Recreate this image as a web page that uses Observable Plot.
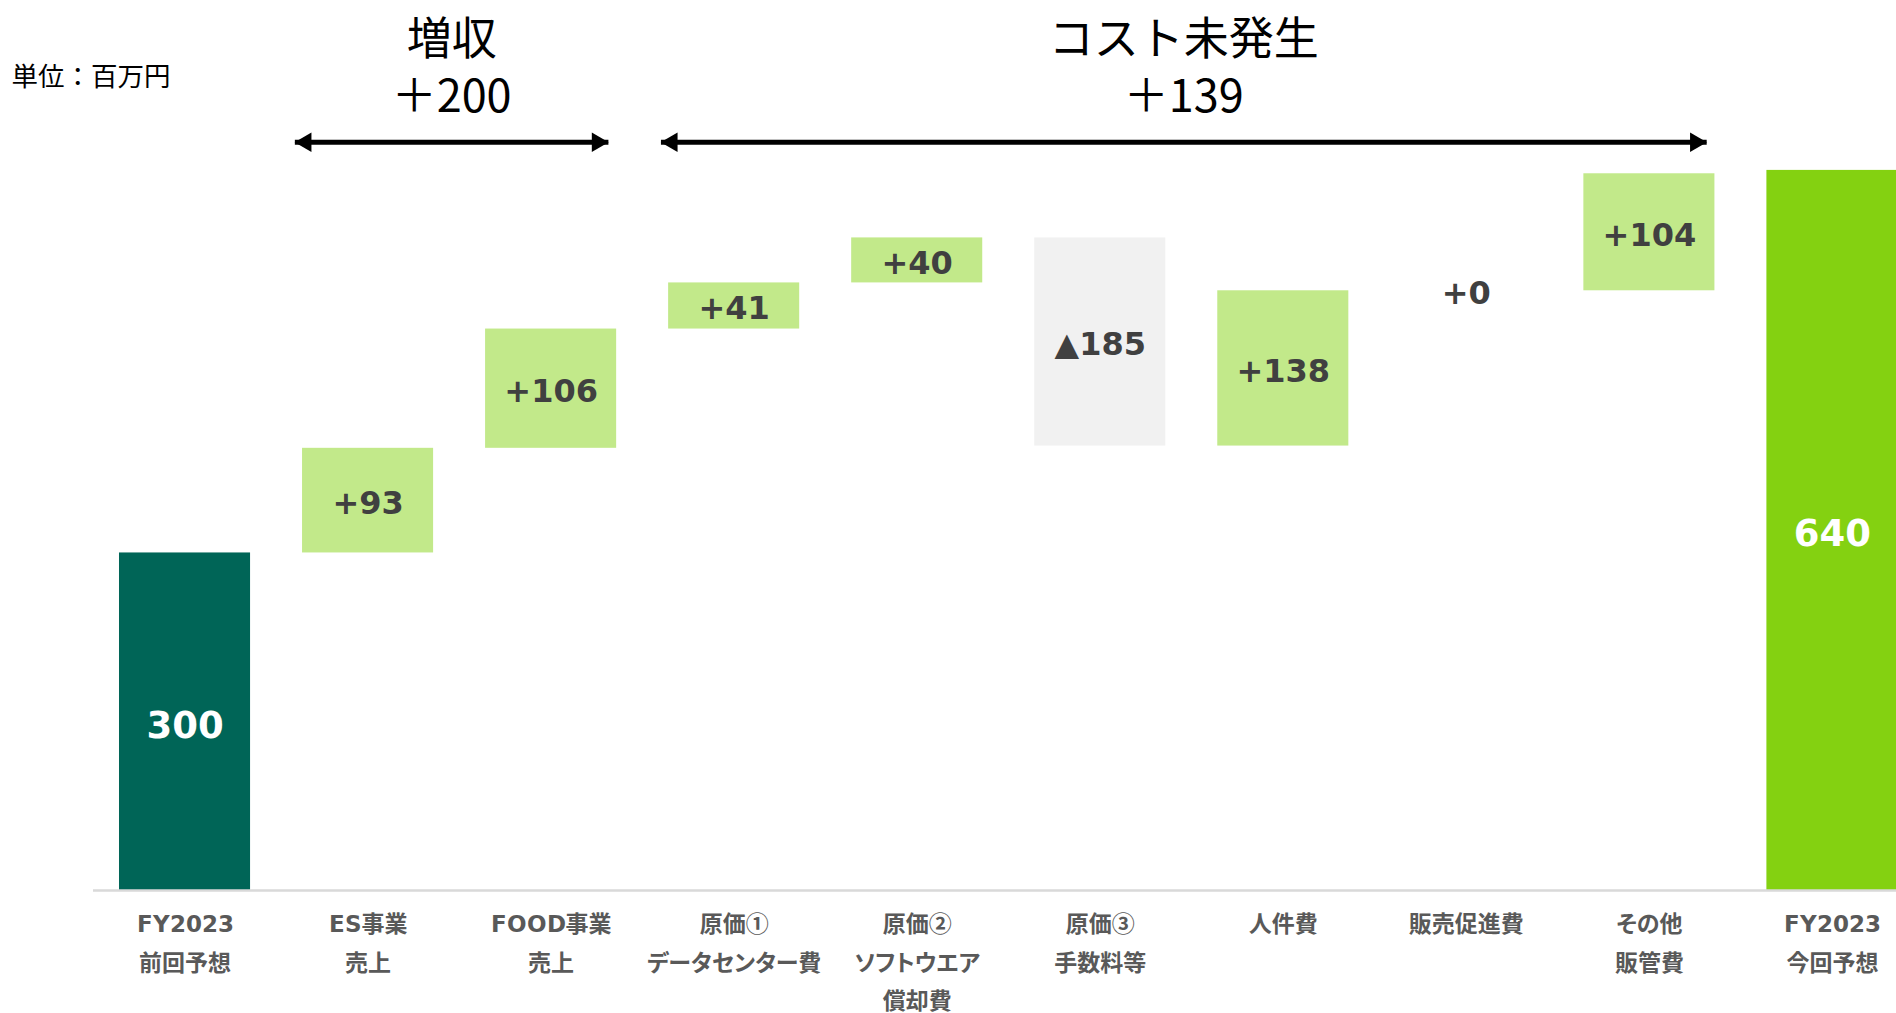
<!DOCTYPE html>
<html><head><meta charset="utf-8">
<script src="https://cdn.jsdelivr.net/npm/d3@7"></script>
<script src="https://cdn.jsdelivr.net/npm/@observablehq/plot@0.6"></script>
<style>
@font-face{font-family:"LatinMix";src:local("DejaVu Sans Bold"),local("DejaVuSans-Bold");font-weight:700;unicode-range:U+0020-007E;}
html,body{margin:0;padding:0;background:#fff;overflow:hidden}
g[aria-label="x-axis tick label"] text{font-feature-settings:"palt"}
</style>
</head><body><div id="chart"></div>
<script>
// ---- data ----
const categories = [
  "FY2023\n前回予想",
  "ES事業\n売上",
  "FOOD事業\n売上",
  "原価①\nデータセンター費",
  "原価②\nソフトウエア\n償却費",
  "原価③\n手数料等",
  "人件費",
  "販売促進費",
  "その他\n販管費",
  "FY2023\n今回予想"
];
const startValue = 300;
const deltas = [93, 106, 41, 40, -185, 138, 0, 104];
const endValue = 640;
const groupTitles = ["増収", "コスト未発生"];
const groupTotals = ["＋200", "＋139"];
const groupFirst = [1, 3];
const groupLast = [2, 8];
const unitLabel = "単位：百万円";

// ---- styling ----
const colors = {start: "#006557", up: "#c2e98a", down: "#f1f1f1", zero: "none", end: "#84d111"};
const half = 0.358;

// ---- build waterfall rows ----
const rows = [];
rows.push({i: 0, y1: 0, y2: startValue, kind: "start", label: String(startValue)});
let cum = startValue;
deltas.forEach((d, k) => {
  const y1 = cum;
  cum += d;
  rows.push({i: k + 1, y1, y2: cum, kind: d > 0 ? "up" : d < 0 ? "down" : "zero",
             label: d < 0 ? "▲" + (-d) : "+" + d});
});
rows.push({i: deltas.length + 1, y1: 0, y2: endValue, kind: "end", label: String(endValue)});

const arrowY = endValue + 25;
const groups = groupTitles.map((t, g) => ({
  title: t, total: groupTotals[g],
  x1: groupFirst[g] - 0.4, x2: groupLast[g] + 0.313
}));

const mid = d => (d.y1 + d.y2) / 2;
const valueFont = "'DejaVu Sans', 'Noto Sans CJK JP', sans-serif";

const plot = Plot.plot({
  width: 1896, height: 1013,
  marginLeft: 93, marginRight: 0, marginTop: 0, marginBottom: 123,
  x: {domain: [-0.5, 9.35]},
  y: {domain: [0, 791], axis: null},
  color: {type: "identity"},
  style: {fontFamily: "'Noto Sans CJK JP', sans-serif", background: "#fff", overflow: "hidden"},
  marks: [
    Plot.rectY(rows.filter(r => r.kind !== "zero"), {
      x1: d => d.i - half, x2: d => d.i + half, y1: "y1", y2: "y2",
      fill: d => colors[d.kind]
    }),
    Plot.ruleY([0], {stroke: "#d9d9d9", strokeWidth: 2.5}),
    Plot.axisX({
      ticks: categories.map((_, i) => i), tickFormat: i => categories[i],
      tickSize: 0, tickPadding: 14, fontSize: 23, fontWeight: "bold",
      fontFamily: "'LatinMix', 'Noto Sans CJK JP', sans-serif",
      color: "#595959", lineHeight: 1.68, label: null
    }),
    Plot.text(rows.filter(r => r.kind === "start" || r.kind === "end"), {
      x: "i", y: mid, text: "label", fill: "#ffffff", dy: 4,
      fontSize: 37, fontWeight: "bold", fontFamily: valueFont
    }),
    Plot.text(rows.filter(r => r.kind !== "start" && r.kind !== "end"), {
      x: "i", y: mid, text: "label", fill: "#404040", dy: 3,
      fontSize: 32, fontWeight: "bold", fontFamily: valueFont
    }),
    Plot.link(groups, {x1: "x1", x2: "x2", y1: () => arrowY, y2: () => arrowY,
      stroke: "#000", strokeWidth: 5}),
    Plot.dot(groups, {x: "x2", y: () => arrowY, symbol: "triangle", r: 7.2,
      fill: "#000", stroke: "none", rotate: 90, dx: -11}),
    Plot.dot(groups, {x: "x1", y: () => arrowY, symbol: "triangle", r: 7.2,
      fill: "#000", stroke: "none", rotate: -90, dx: 11}),
    Plot.text(groups, {x: d => (d.x1 + d.x2) / 2, y: () => arrowY, text: "title",
      dy: -102, fontSize: 45, fill: "#000"}),
    Plot.text(groups, {x: d => (d.x1 + d.x2) / 2, y: () => arrowY, text: "total",
      dy: -45, fontSize: 45, fill: "#000"}),
    Plot.text([unitLabel], {frameAnchor: "top-left", text: d => d, dx: -82, dy: 77,
      textAnchor: "start", lineAnchor: "middle", fontSize: 26.5, fill: "#000"})
  ]
});
document.getElementById("chart").appendChild(plot);
</script>
</body></html>
